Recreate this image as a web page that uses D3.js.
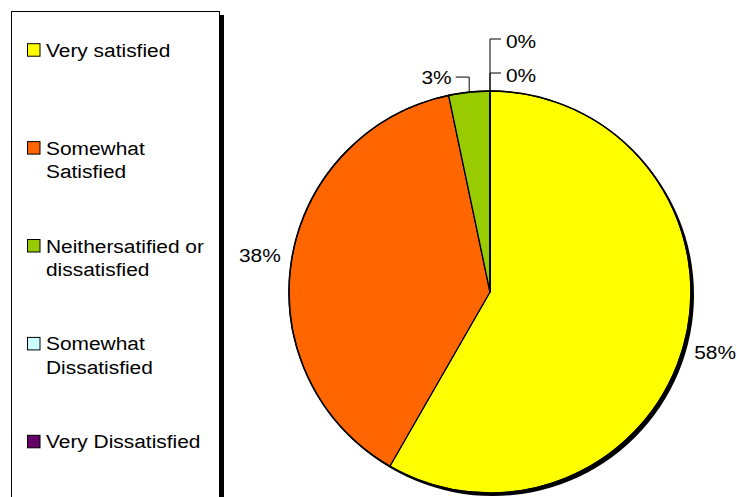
<!DOCTYPE html>
<html>
<head>
<meta charset="utf-8">
<script src="https://cdn.jsdelivr.net/npm/d3@7"></script>
<style>
  html, body { margin: 0; padding: 0; background: #fff; }
  svg { display: block; }
  text { font-family: "Liberation Sans", Arial, sans-serif; fill: #000; }
</style>
</head>
<body>
<svg id="chart" width="737" height="497"></svg>
<script>
// ---- data ----
const categories = [
  ["Very satisfied"],
  ["Somewhat", "Satisfied"],
  ["Neithersatified or", "dissatisfied"],
  ["Somewhat", "Dissatisfied"],
  ["Very Dissatisfied"]
];
const values = [58.3, 38.4, 3.3, 0, 0];
const valueLabels = ["58%", "38%", "3%", "0%", "0%"];
const colors = ["#FFFF00", "#FF6600", "#99CC00", "#CCFFFF", "#660066"];

// ---- layout ----
const svg = d3.select("#chart");
const W = 737, H = 497;
const fontSize = 19, sx = 1.1;

function addText(g, x, y, str, anchor) {
  return g.append("text")
    .attr("transform", `translate(${x},${y}) scale(${sx},1)`)
    .attr("text-anchor", anchor || "start")
    .attr("font-size", fontSize)
    .text(str);
}

// Legend box
const lg = svg.append("g");
lg.append("rect").attr("x", 15).attr("y", 15).attr("width", 209).attr("height", 520).attr("fill", "#000");
lg.append("rect").attr("x", 11.5).attr("y", 11.5).attr("width", 208).attr("height", 520)
  .attr("fill", "#fff").attr("stroke", "#000").attr("stroke-width", 1);

const legendY = d3.scalePoint().domain(d3.range(categories.length)).range([56.7, 448.3]);
categories.forEach((lines, i) => {
  const by = legendY(i);
  lg.append("rect").attr("x", 27.5).attr("y", by - 13).attr("width", 12.5).attr("height", 12.5)
    .attr("fill", colors[i]).attr("stroke", "#000").attr("stroke-width", 1);
  lines.forEach((ln, j) => addText(lg, 46, by + j * 23.2, ln));
});

// Pie
const cx = 490, cy = 292, r = 201;
const pie = d3.pie().sort(null).value(d => d)(values);
const arc = d3.arc().innerRadius(0).outerRadius(r);
const pg = svg.append("g").attr("transform", `translate(${cx},${cy})`);

pg.append("circle").attr("cx", 3).attr("cy", 3).attr("r", r).attr("fill", "#000");
pg.selectAll("path.slice").data(pie).enter().append("path")
  .attr("class", "slice")
  .attr("d", arc)
  .attr("fill", (d, i) => colors[i])
  .attr("stroke", "#000").attr("stroke-width", 1.3).attr("stroke-linejoin", "round");
pg.append("circle").attr("r", r).attr("fill", "none").attr("stroke", "#000").attr("stroke-width", 1.5);

// Labels
const labelR = 233;
const lblG = svg.append("g");
let rightStack = 0;
pie.forEach((d, i) => {
  const mid = (d.startAngle + d.endAngle) / 2;
  const share = values[i] / d3.sum(values);
  const ex = cx + r * Math.sin(mid), ey = cy - r * Math.cos(mid);
  if (share >= 0.05) {
    const lx = cx + labelR * Math.sin(mid), ly = cy - labelR * Math.cos(mid);
    addText(lblG, lx, ly + 6.5, valueLabels[i], "middle");
  } else if (values[i] > 0) {
    // small slice: elbow leader to the left
    const elbowY = ey - 15, endX = ex - 13.5;
    lblG.append("path")
      .attr("d", `M${ex},${ey} L${ex},${elbowY} L${endX},${elbowY}`)
      .attr("fill", "none").attr("stroke", "#000").attr("stroke-width", 1);
    addText(lblG, endX - 4, elbowY + 6.8, valueLabels[i], "end");
  } else {
    // zero slices stacked to the right
    const elbowY = ey - 18 - rightStack * 34;
    rightStack++;
    lblG.append("path")
      .attr("d", `M${ex},${ey} L${ex},${elbowY} L${ex + 11},${elbowY}`)
      .attr("fill", "none").attr("stroke", "#000").attr("stroke-width", 1);
    addText(lblG, ex + 16, elbowY + 8.7, valueLabels[i], "start");
  }
});
</script>
</body>
</html>
